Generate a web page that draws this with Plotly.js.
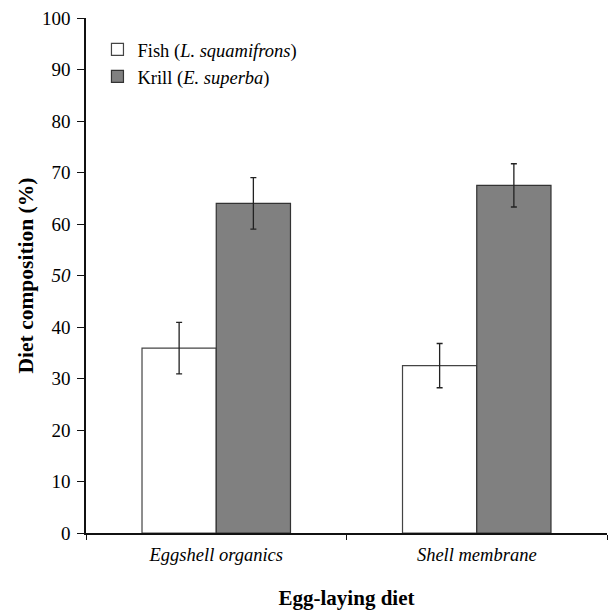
<!DOCTYPE html>
<html>
<head>
<meta charset="utf-8">
<script src="https://cdn.plot.ly/plotly-3.0.1.min.js"></script>
<style>html,body{margin:0;padding:0;background:#fff;}#chart{width:612px;height:610px;}</style>
</head>
<body>
<div id="chart"></div>
<script>
const categories = ["<i>Eggshell organics</i>", "<i>Shell membrane</i>"];
const fishValues = [35.9, 32.5];
const fishErrors = [5.0, 4.3];
const krillValues = [64.0, 67.5];
const krillErrors = [5.0, 4.2];
const yTicks = [0, 10, 20, 30, 40, 50, 60, 70, 80, 90, 100];
const yTickText = ["0", "10", "20", "30", "40", "<i>50</i>", "60", "70", "80", "90", "100"];

const font = "Liberation Serif";

const traces = [
  {
    type: "bar", name: "Fish (<i>L. squamifrons</i>)",
    x: categories, y: fishValues,
    marker: {color: "#ffffff", line: {color: "#444444", width: 1.2}},
    error_y: {type: "data", array: fishErrors, visible: true, color: "#222222", thickness: 1.3, width: 3}
  },
  {
    type: "bar", name: "Krill (<i>E. superba</i>)",
    x: categories, y: krillValues,
    marker: {color: "#808080", line: {color: "#333333", width: 1.2}},
    error_y: {type: "data", array: krillErrors, visible: true, color: "#222222", thickness: 1.3, width: 3}
  }
];

const layout = {
  width: 612, height: 610,
  margin: {l: 86, r: 5, t: 18, b: 77},
  paper_bgcolor: "#ffffff", plot_bgcolor: "#ffffff",
  font: {family: font, size: 18.5, color: "#000000"},
  barmode: "group", bargap: 0.43, bargroupgap: 0,
  showlegend: true,
  legend: {x: 0.022, y: 0.975, xanchor: "left", yanchor: "top", bgcolor: "rgba(0,0,0,0)",
           font: {family: font, size: 18.5, color: "#000000"}, tracegroupgap: 0, itemwidth: 30},
  xaxis: {
    type: "category", showline: true, linecolor: "#111111", linewidth: 1.6,
    ticks: "outside", tickson: "boundaries", ticklen: 5, tickcolor: "#111111",
    showgrid: false, zeroline: false, ticklabelstandoff: 4,
    tickfont: {family: font, size: 18.5, color: "#000000"},
    title: {text: "<b>Egg-laying diet</b>", font: {family: font, size: 21, color: "#000000"}, standoff: 30}
  },
  yaxis: {
    range: [0, 100], tickvals: yTicks, ticktext: yTickText,
    showline: true, linecolor: "#111111", linewidth: 1.6,
    ticks: "outside", ticklen: 7, tickcolor: "#111111",
    showgrid: false, zeroline: false, ticklabelstandoff: 3,
    tickfont: {family: font, size: 19, color: "#000000"},
    title: {text: "<b>Diet composition (%)</b>", font: {family: font, size: 21.5, color: "#000000"}, standoff: 2}
  }
};

Plotly.newPlot("chart", traces, layout, {displayModeBar: false, staticPlot: true});
</script>
</body>
</html>
